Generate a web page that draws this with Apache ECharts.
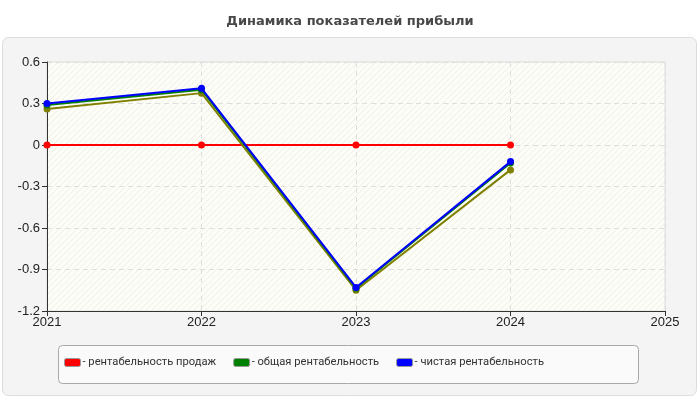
<!DOCTYPE html>
<html>
<head>
<meta charset="utf-8">
<title></title>
<script type="text/javascript" src="https://cdn.jsdelivr.net/npm/echarts@6/dist/echarts.min.js"></script>
<style>
  html, body { margin: 0; padding: 0; background: #fff; }
</style>
</head>
<body>
<div id="chart" style="width:700px;height:400px;"></div>
<script type="text/javascript">
// годы и значения
var years = [2021, 2022, 2023, 2024];
var salesProfit = [0, 0, 0, 0];          // рентабельность продаж
var totalProfit = [0.29, 0.40, -1.035, -0.13];   // общая рентабельность
var netProfit = [0.30, 0.41, -1.03, -0.12];       // чистая рентабельность
var shadowLine = [0.26, 0.375, -1.05, -0.18];     // оливковая линия без легенды
var yTicks = { min: -1.2, max: 0.6, step: 0.3 };
var xTicks = { min: 2021, max: 2025, step: 1 };

function pairs(vals) {
  var res = [];
  for (var i = 0; i < years.length; i++) res.push([years[i], vals[i]]);
  return res;
}

// штриховка фона
var hatch = document.createElement('canvas');
hatch.width = 6; hatch.height = 6;
var hc = hatch.getContext('2d');
hc.fillStyle = '#fdfdf7';
hc.fillRect(0, 0, 6, 6);
hc.strokeStyle = '#efefe6';
hc.lineWidth = 1;
hc.beginPath();
hc.moveTo(0, 6); hc.lineTo(6, 0);
hc.moveTo(-3, 3); hc.lineTo(3, -3);
hc.moveTo(3, 9); hc.lineTo(9, 3);
hc.stroke();

var chart = echarts.init(document.getElementById('chart'));

function lineSeries(name, vals, color, z) {
  return {
    name: name,
    type: 'line',
    data: pairs(vals),
    symbol: 'circle',
    symbolSize: 7,
    z: z,
    lineStyle: { color: color, width: 2 },
    itemStyle: { color: color },
    emphasis: { disabled: true },
    animation: false
  };
}

var axisFont = { color: '#222', fontFamily: 'Liberation Sans', fontSize: 13 };

var option = {
  backgroundColor: '#fff',
  title: {
    text: 'Динамика показателей прибыли',
    left: 'center',
    top: 10,
    textStyle: { fontFamily: 'DejaVu Sans', fontSize: 13, fontWeight: 'bold', color: '#484848' }
  },
  graphic: [
    {
      type: 'rect', z: -10, silent: true,
      shape: { x: 2.5, y: 37.5, width: 694, height: 358, r: 6 },
      style: { fill: '#f4f4f4', stroke: '#dcdcdc', lineWidth: 1 }
    },
    {
      type: 'rect', z: -10, silent: true,
      shape: { x: 58.5, y: 345.5, width: 580, height: 38, r: 4 },
      style: { fill: '#fafafa', stroke: '#a8a8a8', lineWidth: 1 }
    }
  ],
  grid: {
    left: 47, right: 35, top: 62, bottom: 89,
    show: true,
    backgroundColor: { image: hatch, repeat: 'repeat' },
    borderColor: '#dcdcdc',
    borderWidth: 1
  },
  legend: {
    data: ['рентабельность продаж', 'общая рентабельность', 'чистая рентабельность'],
    left: 59,
    top: 352,
    itemWidth: 16,
    itemHeight: 8,
    itemGap: 17,
    icon: 'roundRect',
    formatter: '- {name}',
    selectedMode: false,
    textStyle: { fontFamily: 'Roboto', fontSize: 11.2, color: '#333', padding: [0, 0, 0, -3] },
    itemStyle: { borderColor: '#999', borderWidth: 1 }
  },
  xAxis: {
    type: 'value',
    min: xTicks.min, max: xTicks.max, interval: xTicks.step,
    axisLine: { onZero: false, lineStyle: { color: '#333', width: 1 } },
    axisTick: { show: true, length: 5, lineStyle: { color: '#333' } },
    axisLabel: Object.assign({ margin: 5, formatter: function (v) { return String(v); } }, axisFont),
    splitLine: { show: true, lineStyle: { color: '#dedede', type: [5, 4] } }
  },
  yAxis: {
    type: 'value',
    min: yTicks.min, max: yTicks.max, interval: yTicks.step,
    axisLine: { show: true, onZero: false, lineStyle: { color: '#333', width: 1 } },
    axisTick: { show: true, length: 5, lineStyle: { color: '#333' } },
    axisLabel: Object.assign({
      margin: 7,
      formatter: function (v) { return String(Math.round(v * 10) / 10); }
    }, axisFont),
    splitLine: { show: true, lineStyle: { color: '#dedede', type: [5, 4] } }
  },
  series: [
    lineSeries('рентабельность продаж', salesProfit, '#ff0000', 2),
    lineSeries('shadow', shadowLine, '#808000', 3),
    lineSeries('общая рентабельность', totalProfit, '#008000', 4),
    lineSeries('чистая рентабельность', netProfit, '#0000ff', 5)
  ]
};
chart.setOption(option);
</script>
</body>
</html>
